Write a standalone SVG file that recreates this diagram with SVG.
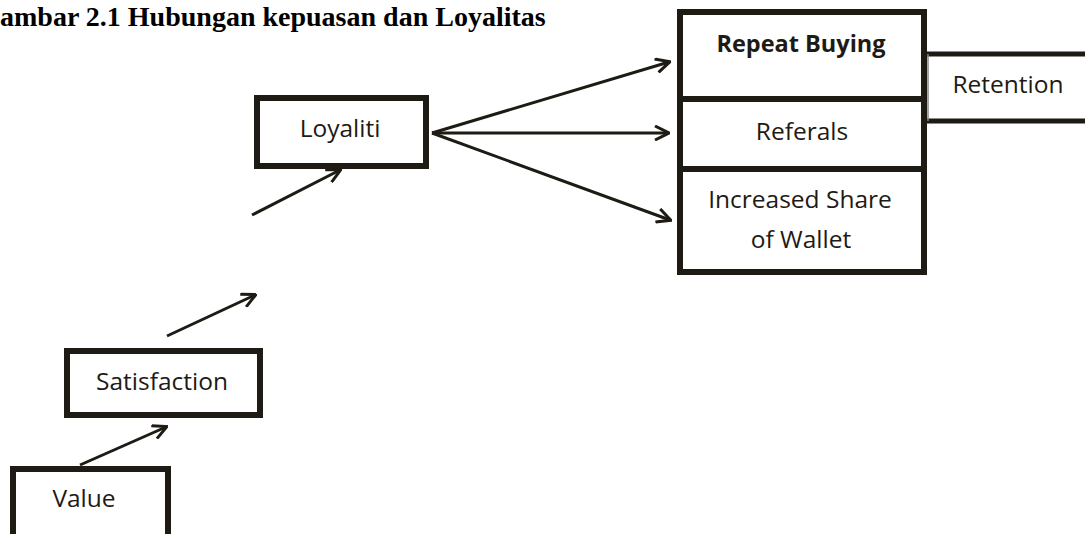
<svg xmlns="http://www.w3.org/2000/svg" width="1085" height="534" viewBox="0 0 1085 534">
<style>
.box{fill:#fff;stroke:#1e1a14;stroke-width:6}
.lbl{font-family:"Open Sans","Liberation Sans",sans-serif;font-size:24.5px;fill:#1e1a14;text-anchor:middle}
.bold{font-weight:bold;font-size:23.5px}
.con{stroke:#1e1a14;stroke-width:3;fill:none}
.title{font-family:"Liberation Serif","Times New Roman",serif;font-weight:bold;font-size:28px;fill:#000}
</style>
<defs>
<marker id="arr" viewBox="0 0 16 16" refX="14" refY="8" markerWidth="16" markerHeight="16" markerUnits="userSpaceOnUse" orient="auto">
<path d="M1,1 L15,8 L1,15" fill="none" stroke="#1e1a14" stroke-width="3"/>
</marker>
</defs>
<rect width="1085" height="534" fill="#fff"/>
<text class="title" x="0" y="26">ambar 2.1 Hubungan kepuasan dan Loyalitas</text>

<g id="retention">
<line x1="924" y1="54" x2="1090" y2="54" stroke="#1e1a14" stroke-width="5"/>
<line x1="924" y1="121" x2="1090" y2="121" stroke="#1e1a14" stroke-width="5"/>
<line x1="928" y1="54" x2="928" y2="121" stroke="#888" stroke-width="1.5"/>
<text class="lbl" x="1008" y="93">Retention</text>
</g>
<g id="outcomes">
<rect class="box" x="680" y="12" width="244" height="260"/>
<line x1="680" y1="99" x2="924" y2="99" stroke="#1e1a14" stroke-width="6"/>
<line x1="680" y1="169" x2="924" y2="169" stroke="#1e1a14" stroke-width="6"/>
</g>
<g id="repeat-buying"><text class="lbl bold" x="801" y="52">Repeat Buying</text></g>
<g id="referals"><text class="lbl" x="802" y="140">Referals</text></g>
<g id="share-of-wallet"><text class="lbl" x="800" y="208">Increased Share</text><text class="lbl" x="801" y="248">of Wallet</text></g>

<g id="loyaliti">
<rect class="box" x="257" y="98" width="169" height="68"/>
<text class="lbl" x="340" y="137">Loyaliti</text>
</g>
<g id="satisfaction">
<rect class="box" x="67" y="351" width="193" height="64"/>
<text class="lbl" x="162" y="390">Satisfaction</text>
</g>
<g id="value">
<rect class="box" x="13" y="469" width="155" height="80"/>
<text class="lbl" x="84" y="507">Value</text>
</g>

<g id="connectors">
<line class="con" x1="80" y1="465" x2="166" y2="427" marker-end="url(#arr)"/>
<line class="con" x1="167" y1="336" x2="255" y2="295" marker-end="url(#arr)"/>
<line class="con" x1="252" y1="215" x2="340" y2="170" marker-end="url(#arr)"/>
<line class="con" x1="432" y1="133" x2="669" y2="62" marker-end="url(#arr)"/>
<line class="con" x1="432" y1="133" x2="668" y2="133" marker-end="url(#arr)"/>
<line class="con" x1="432" y1="133" x2="670" y2="220" marker-end="url(#arr)"/>
</g>
</svg>
